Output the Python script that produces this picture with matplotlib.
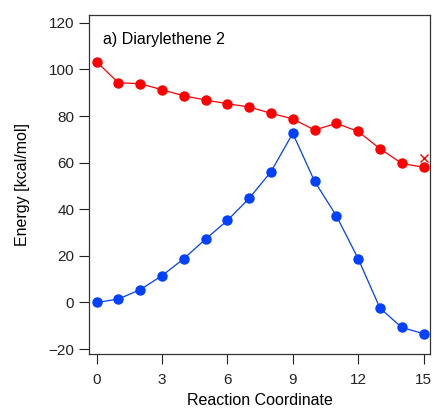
from matplotlib import pyplot as plt

plt.rcParams['font.family'] = ['Liberation Sans', 'DejaVu Sans']

coord = list(range(16))
excited = [103.3, 94.3, 93.9, 91.3, 88.7, 86.9, 85.3, 83.9, 81.2, 78.8,
           74.0, 76.9, 73.4, 66.0, 59.7, 58.0]
ground = [0.0, 1.5, 5.5, 11.5, 18.8, 27.2, 35.2, 44.7, 56.1, 72.6,
          52.0, 37.2, 18.8, -2.4, -10.7, -13.4]
cross_x = [15]
cross_y = [62.0]

red = '#ff0000'
blue = '#0040ff'

fig = plt.figure(figsize=(4.34, 4.09), dpi=100)
ax = fig.add_axes([0.206, 0.1345, 0.785, 0.8295])

ax.plot(coord, excited, '-o', color=red, lw=0.9, ms=6.5, zorder=3)
ax.plot(coord, ground, '-o', color=blue, lw=0.9, ms=6.5, zorder=3)
ax.plot(cross_x, cross_y, 'x', color=red, ms=6, mew=1, zorder=4)

ax.set_xlim(-0.33, 15.3)
ax.set_ylim(-22.1, 123.5)
ax.set_xticks([0, 3, 6, 9, 12, 15])
ax.set_yticks(range(-20, 121, 20))
ax.tick_params(direction='out', length=7, width=0.8,
               labelsize=11, colors='#222222')
ax.tick_params(axis='x', pad=7)
ax.tick_params(axis='y', pad=4)
for s in ax.spines.values():
    s.set_linewidth(0.9)
    s.set_color('#333333')

ax.set_xlabel('Reaction Coordinate', fontsize=11.5, labelpad=4)
ax.set_ylabel('Energy [kcal/mol]', fontsize=11.5, labelpad=13)
ax.text(0.04, 0.928, 'a) Diarylethene 2', transform=ax.transAxes,
        fontsize=11.5, va='center', ha='left')

plt.savefig('out.png', dpi=100)
